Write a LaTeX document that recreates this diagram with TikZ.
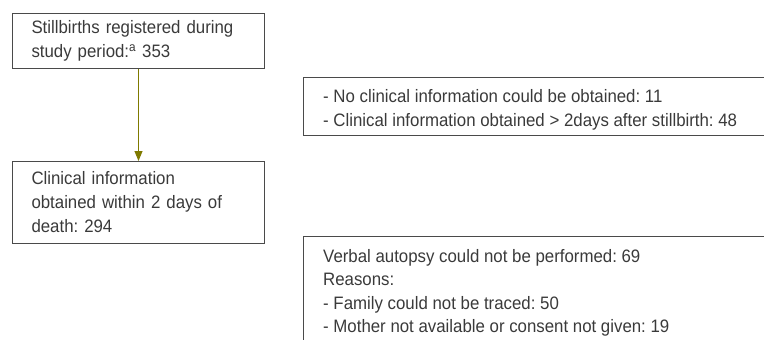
\documentclass[tikz,border=0pt]{standalone}
\usepackage{fontspec}
\setmainfont[FakeStretch=0.935]{Liberation Sans}
\usepackage{xcolor}
\usepackage{tikz}
\usetikzlibrary{arrows.meta, positioning}
\frenchspacing

\definecolor{boxline}{HTML}{4A4A4A}
\definecolor{boxtext}{HTML}{3A3A3A}
\definecolor{olivearrow}{HTML}{7F7A00}

\tikzset{
    flowbox/.style={draw=boxline, line width=1pt, anchor=north west, align=left,
        text=boxtext, inner xsep=19pt, inner ysep=0pt, text width=214pt,
        minimum width=252pt, font=\fontsize{18}{24}\selectfont,
        execute at begin node={\setlength{\baselineskip}{24pt}}},
    sidetext/.style={align=left, text=boxtext, inner sep=0pt,
        font=\fontsize{18}{23.5}\selectfont,
        execute at begin node={\setlength{\baselineskip}{23.5pt}}},
}

\begin{document}
\begin{tikzpicture}[x=1pt, y=-1pt]
    \useasboundingbox (0,0) rectangle (764,340);

    \node[flowbox, minimum height=55pt] (reg) at (12,13) {Stillbirths registered during\\study period:\textsuperscript{a} 353};
    \node[flowbox, minimum height=82pt] (clin) at (12,161) {Clinical information\\obtained within 2 days of\\death: 294};

    \node[sidetext, anchor=west] (noinfo) at (323,110) {- No clinical information could be obtained: 11\\- Clinical information obtained > 2days after stillbirth: 48};
    \node[sidetext, anchor=north west] (verbal) at (323,249) {Verbal autopsy could not be performed: 69\\Reasons:\\- Family could not be traced: 50\\- Mother not available or consent not given: 19};

    % side boxes run off the page
    \draw[boxline, line width=1pt] (764,77) -- (303,77) -- (303,135) -- (764,135);
    \draw[boxline, line width=1pt] (764,236) -- (303,236) -- (303,340);

    \draw[olivearrow, line width=1pt, -{Triangle[width=8pt, length=10pt]}] (reg) -- (clin);
\end{tikzpicture}
\end{document}
